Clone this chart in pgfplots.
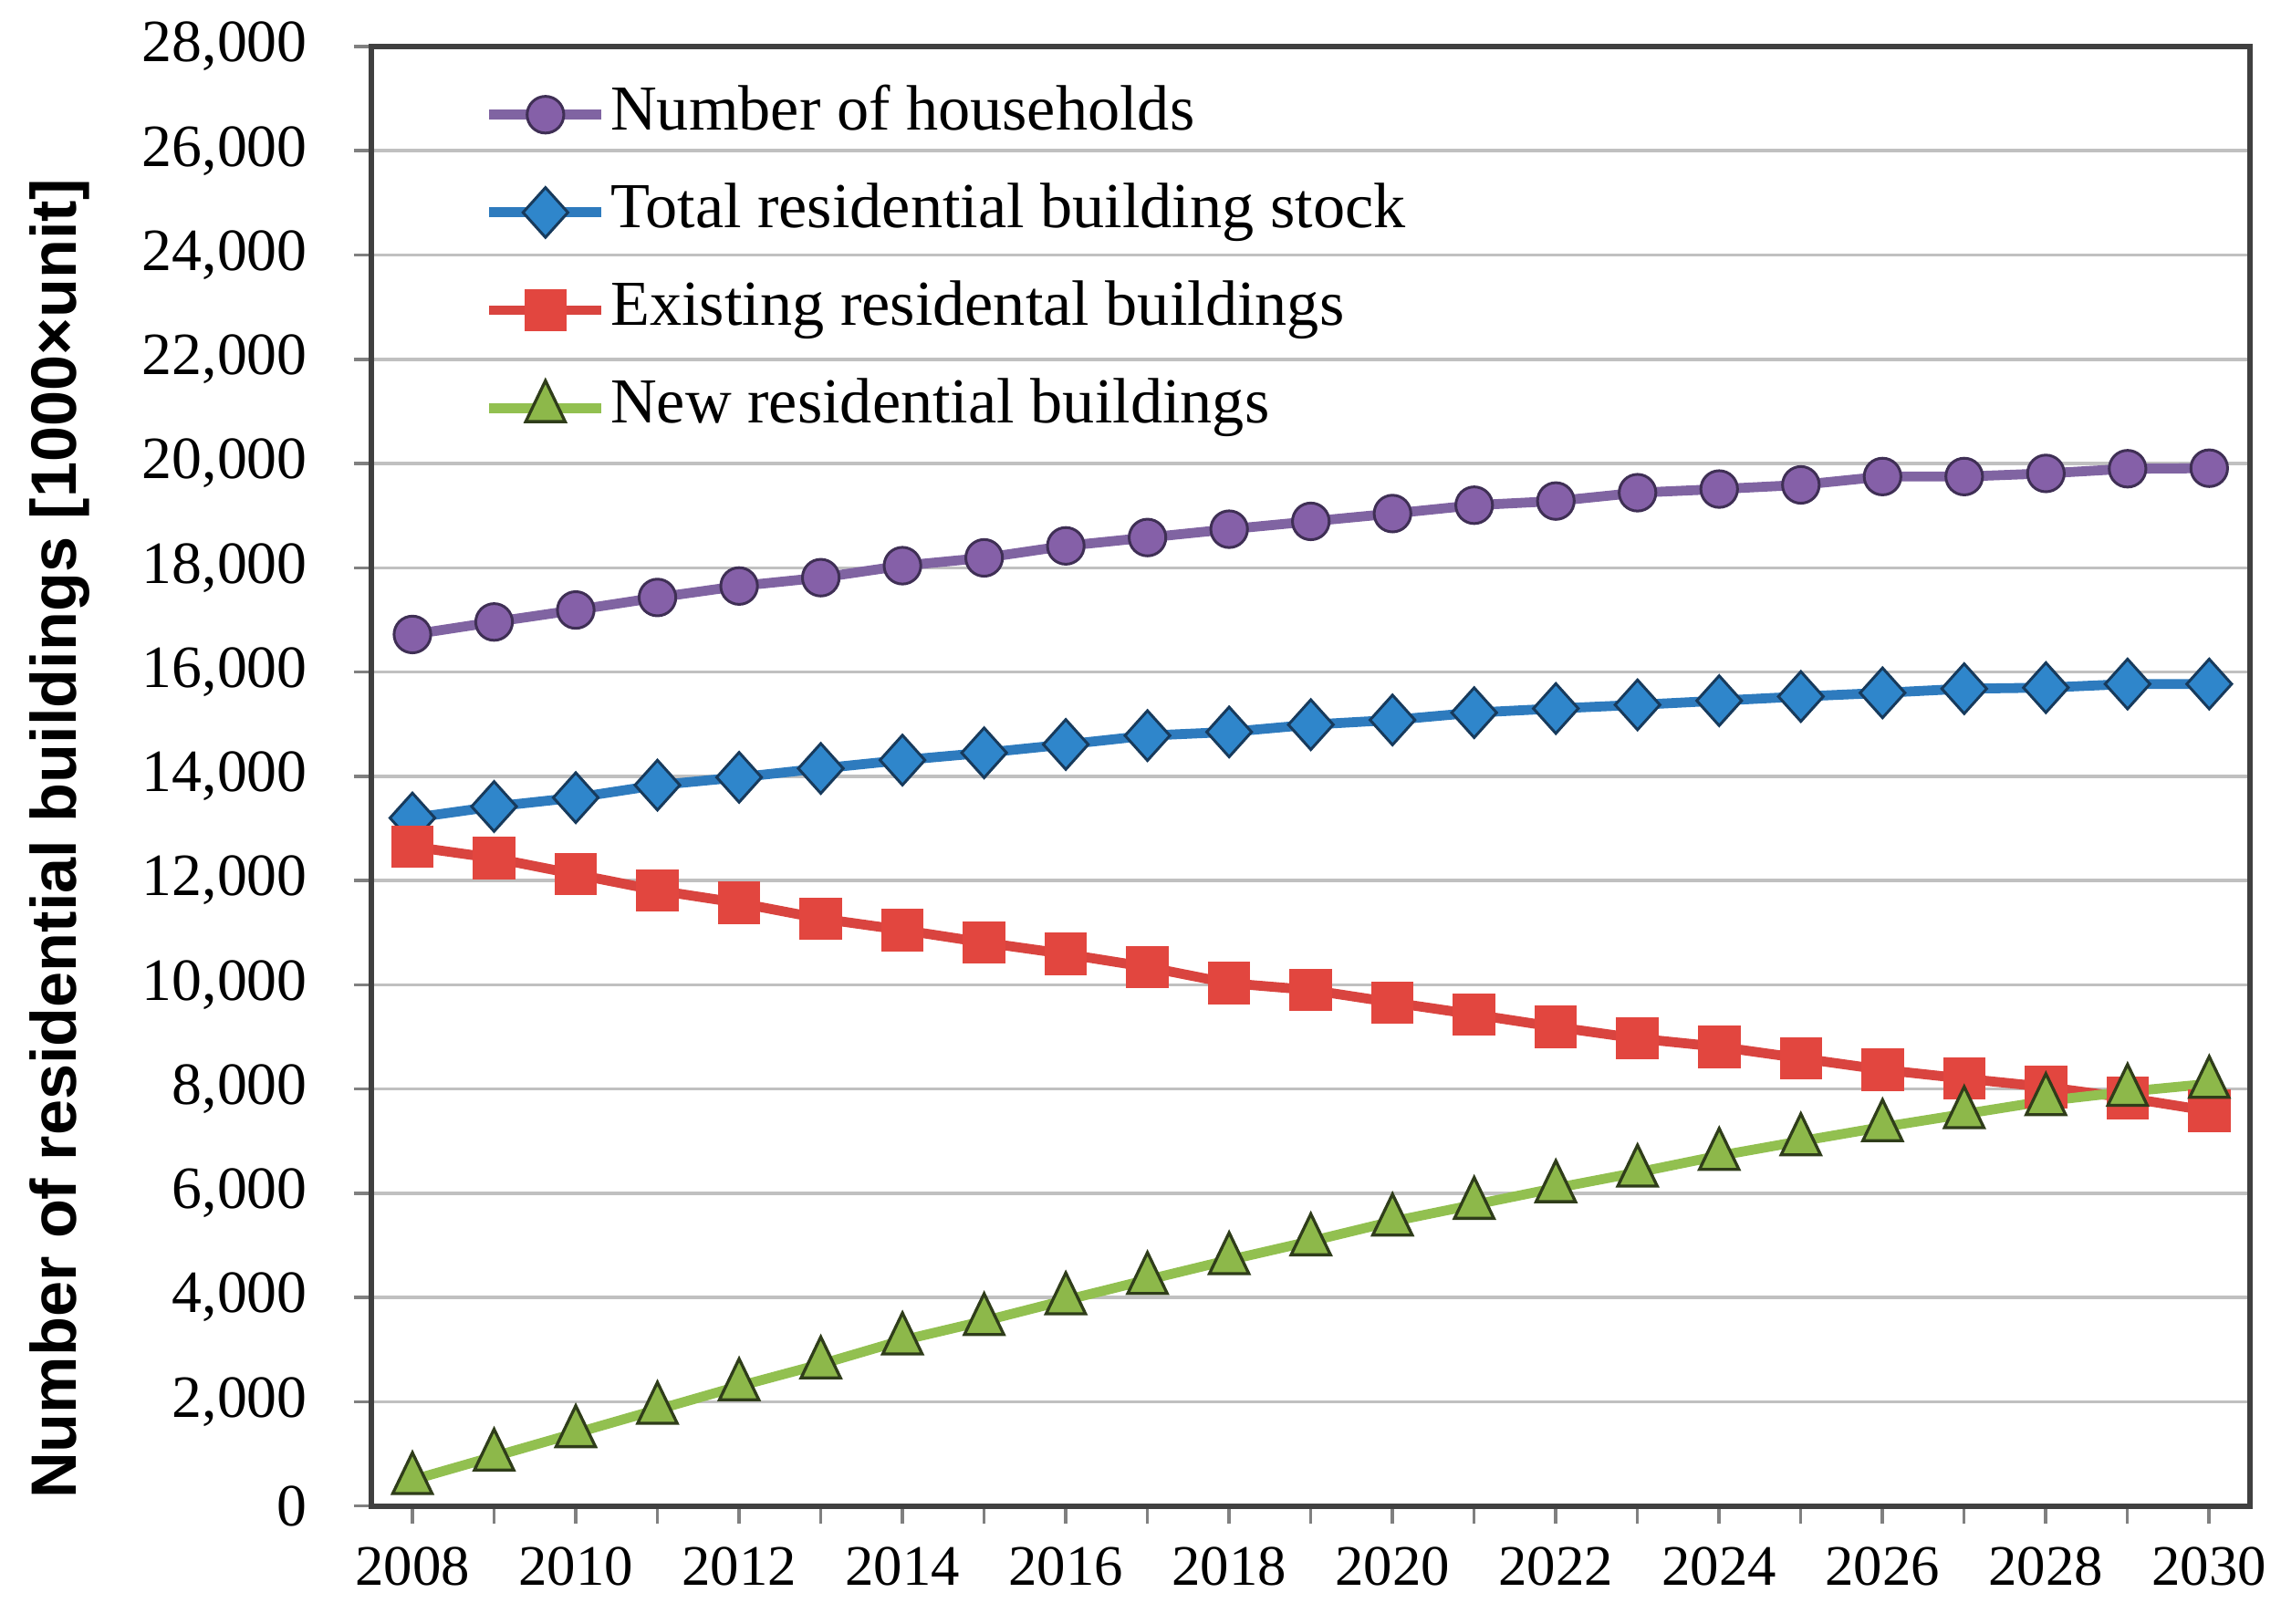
\documentclass[border=0pt]{standalone}
\usepackage{fontspec}
\setmainfont{Liberation Serif}
\newfontfamily\labelfont{Liberation Sans}
\usepackage{pgfplots}
\pgfplotsset{compat=1.18}

\definecolor{axisgray}{HTML}{404040}
\definecolor{gridgray}{HTML}{C0C0C0}
\definecolor{tickgray}{HTML}{808080}
\definecolor{hhline}{HTML}{8064A2}
\definecolor{hhfill}{HTML}{8560A8}
\definecolor{hhdraw}{HTML}{3F2F55}
\definecolor{stline}{HTML}{2E7BBE}
\definecolor{stfill}{HTML}{2F86CB}
\definecolor{stdraw}{HTML}{173A5C}
\definecolor{exline}{HTML}{D9443F}
\definecolor{exfill}{HTML}{E2463F}
\definecolor{nwline}{HTML}{92C050}
\definecolor{nwfill}{HTML}{8DB84A}
\definecolor{nwdraw}{HTML}{2F3D1A}

\begin{document}
\begin{tikzpicture}
\useasboundingbox (-135.7bp,-43bp) rectangle (697.3bp,550bp);
\begin{axis}[
    scale only axis,
    width=686bp, height=533bp,
    xmin=2007.5, xmax=2030.5,
    ymin=0, ymax=28000,
    xtick={2008,...,2030},
    xticklabels={2008,,2010,,2012,,2014,,2016,,2018,,2020,,2022,,2024,,2026,,2028,,2030},
    ytick={0,2000,...,28000},
    scaled y ticks=false,
    /pgf/number format/.cd, fixed, precision=0, 1000 sep={,}, assume math mode=true,
    /pgfplots/.cd,
    xtick pos=bottom, ytick pos=left,
    tick align=outside,
    major tick length=6.5bp,
    tick style={tickgray, line width=1.2bp},
    axis line style={axisgray, line width=2bp},
    ymajorgrids,
    grid style={gridgray, line width=1.2bp},
    xticklabel style={font=\fontsize{21}{25}\selectfont, yshift=-5bp},
    yticklabel style={font=\fontsize{22}{26}\selectfont, xshift=-13.5bp},
    ylabel={\labelfont\bfseries Number of residential buildings [1000×unit]},
    ylabel style={at={(axis description cs:-0.166,0.457)}, anchor=center, font=\fontsize{23.5}{27}\selectfont},
    legend style={at={(axis description cs:0,1)}, anchor=north west,
        xshift=41bp, yshift=-12.7bp,
        draw=none, fill=none, inner sep=0pt,
        font=\fontsize{23.5}{27}\selectfont,
        row sep=11.7bp,
        nodes={inner sep=1.5bp, text height=16bp, text depth=5bp}},
    legend cell align=left,
    legend image code/.code={
        \draw[mark repeat=2,mark phase=2] plot coordinates {(0bp,0bp) (20.5bp,0bp) (41bp,0bp)};
    },
]
\addplot [hhline, line width=3.6bp, mark=*, mark size=6.7bp,
    mark options={fill=hhfill, draw=hhdraw, line width=1bp}] coordinates {
    (2008,16720) (2009,16960) (2010,17190) (2011,17430) (2012,17650) (2013,17810)
    (2014,18040) (2015,18190) (2016,18420) (2017,18580) (2018,18740) (2019,18890)
    (2020,19040) (2021,19200) (2022,19280) (2023,19440) (2024,19510) (2025,19590)
    (2026,19750) (2027,19750) (2028,19810) (2029,19900) (2030,19910)
};
\addlegendentry{Number of households}

\addplot [stline, line width=3.6bp, mark=diamond*, mark size=9.1bp,
    mark options={fill=stfill, draw=stdraw, line width=1bp, xscale=1.2}] coordinates {
    (2008,13200) (2009,13420) (2010,13590) (2011,13830) (2012,13980) (2013,14150)
    (2014,14310) (2015,14450) (2016,14610) (2017,14780) (2018,14850) (2019,14990)
    (2020,15080) (2021,15220) (2022,15300) (2023,15370) (2024,15450) (2025,15530)
    (2026,15600) (2027,15680) (2028,15700) (2029,15770) (2030,15770)
};
\addlegendentry{Total residential building stock}

\addplot [exline, line width=3.6bp, mark=square*, mark size=7.5bp,
    mark options={fill=exfill, draw=exfill, line width=0.5bp}] coordinates {
    (2008,12650) (2009,12430) (2010,12120) (2011,11810) (2012,11570) (2013,11270)
    (2014,11050) (2015,10810) (2016,10590) (2017,10340) (2018,10030) (2019,9900)
    (2020,9660) (2021,9430) (2022,9190) (2023,8970) (2024,8810) (2025,8590)
    (2026,8370) (2027,8200) (2028,8040) (2029,7830) (2030,7580)
};
\addlegendentry{Existing residental buildings}

\addplot [nwline, line width=3.6bp, mark=triangle*, mark size=8.3bp,
    mark options={fill=nwfill, draw=nwdraw, line width=1.1bp, yscale=1.2}] coordinates {
    (2008,500) (2009,950) (2010,1400) (2011,1850) (2012,2300) (2013,2720)
    (2014,3180) (2015,3550) (2016,3950) (2017,4340) (2018,4720) (2019,5080)
    (2020,5460) (2021,5780) (2022,6100) (2023,6400) (2024,6720) (2025,7000)
    (2026,7270) (2027,7520) (2028,7770) (2029,7950) (2030,8100)
};
\addlegendentry{New residential buildings}
\end{axis}
\end{tikzpicture}
\end{document}
